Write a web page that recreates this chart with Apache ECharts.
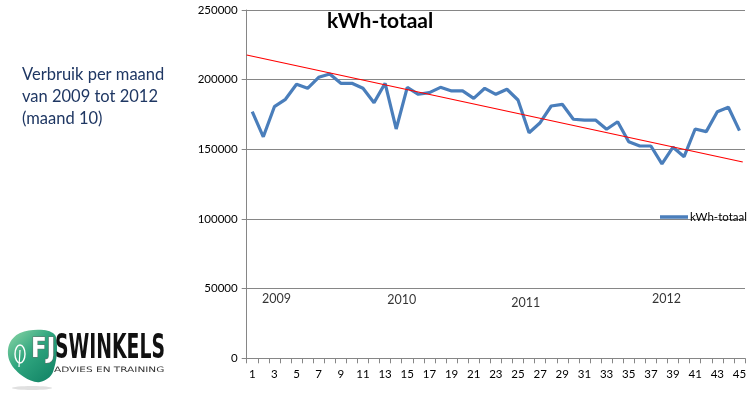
<!DOCTYPE html>
<html>
<head>
<meta charset="utf-8">
<script src="https://cdn.jsdelivr.net/npm/echarts@6/dist/echarts.min.js"></script>
<style>
html,body{margin:0;padding:0;background:#fff;}
#c{width:753px;height:394px;}
</style>
</head>
<body>
<div id="c"></div>
<script>
var months = ['1','2','3','4','5','6','7','8','9','10','11','12','13','14','15','16','17','18','19','20','21','22','23','24','25','26','27','28','29','30','31','32','33','34','35','36','37','38','39','40','41','42','43','44','45'];
var kwhTotaal = [177000,159000,180600,185900,196700,193800,201700,204100,197400,197400,193800,183500,197400,164600,194500,189500,190700,194500,191900,191900,186600,193800,189500,193100,185400,161900,169100,181100,182300,171600,171000,171000,164400,169800,155500,152400,152400,139500,151500,144700,164600,162700,177000,180200,163400];
var trendX = [0.5, 45.3];
var trendValues = [217700, 140900];
var yearNames = ['2009','2010','2011','2012'];
var yearX = [3.2, 14.5, 25.7, 38.4];
var yearY = [42600, 41800, 39700, 42600];
var yTicks = [0, 50000, 100000, 150000, 200000, 250000];

var FONT = 'Lato, "Open Sans", sans-serif';
var chart = echarts.init(document.getElementById('c'), null, {renderer:'canvas'});

var trendData = trendX.map(function(x,i){return [x, trendValues[i]];});
var yearData = yearX.map(function(x,i){return {value:[x, yearY[i]], name: yearNames[i]};});

chart.setOption({
  animation:false,
  backgroundColor:'#fff',
  textStyle:{fontFamily:FONT},
  title:{
    text:'kWh-totaal',
    left:322, top:6,
    textStyle:{fontSize:21, fontWeight:'bold', color:'#000', fontFamily:FONT}
  },
  legend:{
    data:['kWh-totaal'],
    left:660, top:211, padding:0,
    icon:'rect',
    itemWidth:28, itemHeight:3.5, itemGap:4,
    itemStyle:{color:'#4a7ebb'},
    textStyle:{fontSize:11.5, color:'#000', fontFamily:FONT, padding:[0,0,0,-3]}
  },
  grid:{left:246.7, right:8, top:10, bottom:35.7, containLabel:false},
  xAxis:[{
    type:'category',
    data:months,
    boundaryGap:true,
    axisLine:{lineStyle:{color:'#868686', width:1}},
    axisTick:{show:true, interval:0, length:5, lineStyle:{color:'#868686'}},
    axisLabel:{interval:1, fontSize:11.5, color:'#000', margin:10, fontFamily:FONT},
    splitLine:{show:false}
  },{
    type:'value', min:0.5, max:45.5, show:false
  }],
  yAxis:{
    type:'value',
    min:yTicks[0], max:yTicks[yTicks.length-1], interval:50000,
    axisLine:{show:true, lineStyle:{color:'#868686', width:1}},
    axisTick:{show:true, length:5, lineStyle:{color:'#868686'}},
    axisLabel:{fontSize:11.5, color:'#000', margin:9, fontFamily:FONT, formatter:function(v){return String(v);}},
    splitLine:{show:true, lineStyle:{color:'#868686', width:1}}
  },
  series:[{
    name:'kWh-totaal',
    type:'line',
    data:kwhTotaal,
    symbol:'none',
    lineStyle:{color:'#4a7ebb', width:3.2},
    itemStyle:{color:'#4a7ebb'},
    z:3
  },{
    name:'trend',
    type:'line',
    xAxisIndex:1,
    data:trendData,
    symbol:'none',
    lineStyle:{color:'#ff0000', width:1.2},
    itemStyle:{color:'#ff0000'},
    silent:true,
    z:4
  },{
    name:'jaren',
    type:'scatter',
    xAxisIndex:1,
    data:yearData,
    symbolSize:2,
    itemStyle:{color:'rgba(255,255,255,0)'},
    silent:true,
    z:5,
    label:{show:true, position:'inside', formatter:'{b}', fontSize:12.5, color:'#000', fontFamily:FONT}
  }],
  graphic:[
    {type:'text', x:22, y:64, style:{text:'Verbruik per maand\nvan 2009 tot 2012\n(maand 10)', fontSize:16.5, lineHeight:22, fill:'#1f3763', fontFamily:FONT}},
    {type:'ellipse', shape:{cx:32, cy:388, rx:20, ry:2}, style:{fill:'rgba(0,0,0,0.12)'}},
    {type:'polygon', shape:{points:[[20,333],[44,330],[56,337],[53,372],[40,382],[24,377],[10,362],[9,345]], smooth:0.35},
      style:{fill:{type:'linear', x:0, y:0, x2:1, y2:1, colorStops:[{offset:0,color:'#8fd8a8'},{offset:0.45,color:'#2fa57e'},{offset:1,color:'#0e7f63'}]}}},
    {type:'ellipse', shape:{cx:20, cy:354, rx:5, ry:9}, style:{fill:null, stroke:'#fff', lineWidth:1.4}},
    {type:'line', shape:{x1:20, y1:350, x2:19, y2:367}, style:{stroke:'#fff', lineWidth:1.2}},
    {type:'text', x:31, y:336, scaleX:0.85, style:{text:'FJ', fontSize:27, fontWeight:'bold', fill:'#fff', stroke:'#6b6b6b', lineWidth:1, fontFamily:'"DejaVu Sans", sans-serif'}},
    {type:'text', x:55, y:333, scaleX:0.57, style:{text:'SWINKELS', fontSize:33, fontWeight:'bold', fill:'#111', fontFamily:'"DejaVu Sans", sans-serif'}},
    {type:'text', x:54, y:366, scaleX:1.4, style:{text:'ADVIES EN TRAINING', fontSize:7.5, fill:'#333', fontFamily:'"DejaVu Sans", sans-serif'}}
  ]
});
</script>
</body>
</html>
